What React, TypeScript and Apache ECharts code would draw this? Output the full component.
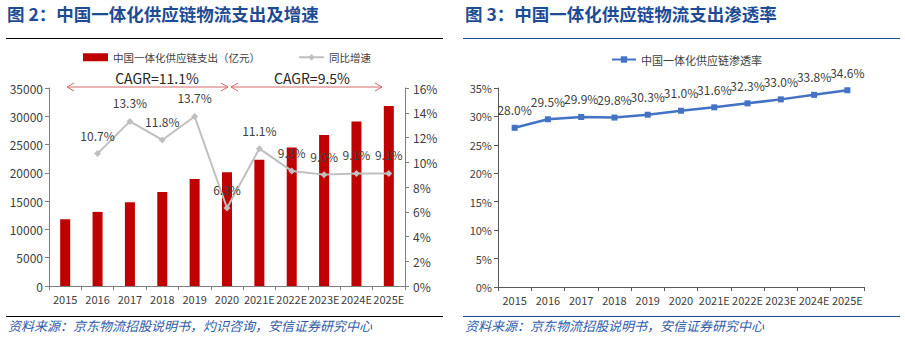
import React, { useEffect, useRef } from "react";
import * as echarts from "echarts";

const years = ["2015", "2016", "2017", "2018", "2019", "2020", "2021E", "2022E", "2023E", "2024E", "2025E"];
const spend = [11800, 13100, 14800, 16600, 18900, 20100, 22300, 24500, 26700, 29100, 31800];
const growth = [null, 10.7, 13.3, 11.8, 13.7, 6.3, 11.1, 9.3, 9.0, 9.1, 9.1];
const penetration = [28.0, 29.5, 29.9, 29.8, 30.3, 31.0, 31.6, 32.3, 33.0, 33.8, 34.6];

const spendName = "中国一体化供应链支出（亿元）";
const growthName = "同比增速";
const penName = "中国一体化供应链渗透率";
const title2 = "图 2：中国一体化供应链物流支出及增速";
const title3 = "图 3：中国一体化供应链物流支出渗透率";
const source2 = "资料来源：京东物流招股说明书，灼识咨询，安信证券研究中心";
const source3 = "资料来源：京东物流招股说明书，安信证券研究中心";
const cagr1 = "CAGR=11.1%";
const cagr2 = "CAGR=9.5%";

const FONT = "Noto Sans CJK SC";
const TITLE_COLOR = "#1D4C94";
const SRC_COLOR = "#2F5CAA";
const TXT = "#404040";
const ARROW = "#D46A6A";

export default function App() {
  const ref = useRef<HTMLDivElement>(null);
  useEffect(() => {
    if (!ref.current) return;
    const chart = echarts.init(ref.current, null, { renderer: "svg" });
    const arrow = (x1: number, x2: number, y: number) => [
      { type: "line", shape: { x1, y1: y, x2, y2: y }, style: { stroke: ARROW, lineWidth: 1 } },
      { type: "polyline", shape: { points: [[x1 + 7, y - 4], [x1, y], [x1 + 7, y + 4]] }, style: { stroke: ARROW, fill: null, lineWidth: 1 } },
      { type: "polyline", shape: { points: [[x2 - 7, y - 4], [x2, y], [x2 - 7, y + 4]] }, style: { stroke: ARROW, fill: null, lineWidth: 1 } },
    ];
    const option: any = {
      animation: false,
      textStyle: { fontFamily: FONT },
      graphic: [
        { type: "text", left: 7, top: 5, style: { text: title2, font: `bold 17.5px "${FONT}"`, fill: TITLE_COLOR } },
        { type: "text", left: 465, top: 5, style: { text: title3, font: `bold 17.5px "${FONT}"`, fill: TITLE_COLOR } },
        { type: "line", shape: { x1: 6, y1: 38.5, x2: 443, y2: 38.5 }, style: { stroke: "#000", lineWidth: 1 } },
        { type: "line", shape: { x1: 463, y1: 38.5, x2: 900, y2: 38.5 }, style: { stroke: TITLE_COLOR, lineWidth: 1 } },
        { type: "line", shape: { x1: 6, y1: 316.5, x2: 443, y2: 316.5 }, style: { stroke: "#000", lineWidth: 1 } },
        { type: "line", shape: { x1: 463, y1: 316.5, x2: 900, y2: 316.5 }, style: { stroke: TITLE_COLOR, lineWidth: 1 } },
        { type: "text", left: 8, top: 319, style: { text: source2, font: `italic 13px "${FONT}"`, fill: SRC_COLOR } },
        { type: "text", left: 465, top: 319, style: { text: source3, font: `italic 13px "${FONT}"`, fill: SRC_COLOR } },
        ...arrow(67, 228, 87),
        ...arrow(231, 382, 87),
        { type: "text", x: 157, y: 78, style: { text: cagr1, font: `14px "${FONT}"`, fill: "#262626", align: "center", verticalAlign: "middle" } },
        { type: "text", x: 312, y: 78, style: { text: cagr2, font: `14px "${FONT}"`, fill: "#262626", align: "center", verticalAlign: "middle" } },
      ],
      legend: [
        {
          left: 78, top: 47, itemWidth: 25, itemHeight: 8, itemGap: 38,
          textStyle: { fontSize: 10.5, color: TXT, fontFamily: FONT },
          data: [{ name: spendName, icon: "rect" }, { name: growthName }],
        },
        {
          left: 606, top: 49, itemWidth: 24, itemHeight: 8,
          textStyle: { fontSize: 11, color: TXT, fontFamily: FONT },
          data: [{ name: penName }],
        },
      ],
      grid: [
        { left: 49, top: 88, width: 356, height: 198 },
        { left: 498, top: 88, width: 366, height: 199 },
      ],
      xAxis: [
        {
          type: "category", gridIndex: 0, data: years,
          axisLine: { lineStyle: { color: "#808080" } },
          axisTick: { show: true, length: 4, lineStyle: { color: "#808080" } },
          axisLabel: { fontSize: 11, color: TXT, margin: 7, interval: 0 },
        },
        {
          type: "category", gridIndex: 1, data: years,
          axisLine: { lineStyle: { color: "#595959" } },
          axisTick: { show: true, length: 4, lineStyle: { color: "#595959" } },
          axisLabel: { fontSize: 11, color: TXT, margin: 7, interval: 0 },
        },
      ],
      yAxis: [
        {
          type: "value", gridIndex: 0, min: 0, max: 35000, interval: 5000, position: "left",
          splitLine: { show: false },
          axisLine: { show: true, lineStyle: { color: "#808080" } },
          axisTick: { show: true, length: 4, lineStyle: { color: "#808080" } },
          axisLabel: { fontSize: 12, color: TXT, margin: 6, formatter: (v: number) => String(v) },
        },
        {
          type: "value", gridIndex: 0, min: 0, max: 16, interval: 2, position: "right",
          splitLine: { show: false },
          axisLine: { show: true, lineStyle: { color: "#808080" } },
          axisTick: { show: true, length: 4, lineStyle: { color: "#808080" } },
          axisLabel: { fontSize: 12, color: TXT, margin: 8, formatter: "{value}%" },
        },
        {
          type: "value", gridIndex: 1, min: 0, max: 35, interval: 5, position: "left",
          splitLine: { show: false },
          axisLine: { show: true, lineStyle: { color: "#595959" } },
          axisTick: { show: true, length: 4, lineStyle: { color: "#595959" } },
          axisLabel: { fontSize: 11, color: TXT, margin: 6, formatter: "{value}%" },
        },
      ],
      series: [
        {
          name: spendName, type: "bar", xAxisIndex: 0, yAxisIndex: 0, data: spend,
          barWidth: 10, itemStyle: { color: "#C00000" },
        },
        {
          name: growthName, type: "line", xAxisIndex: 0, yAxisIndex: 1, data: growth,
          symbol: "diamond", symbolSize: 7, connectNulls: false,
          lineStyle: { color: "#BFBFBF", width: 2 }, itemStyle: { color: "#BFBFBF" },
          label: { show: true, position: "top", distance: 9, fontSize: 12, color: TXT, formatter: (p: any) => p.value.toFixed(1) + "%" },
        },
        {
          name: penName, type: "line", xAxisIndex: 1, yAxisIndex: 2, data: penetration,
          symbol: "rect", symbolSize: 6,
          lineStyle: { color: "#4472C4", width: 2.5 }, itemStyle: { color: "#4472C4" },
          label: { show: true, position: "top", distance: 9, fontSize: 12, color: TXT, formatter: (p: any) => p.value.toFixed(1) + "%" },
        },
      ],
    };
    chart.setOption(option);
    return () => chart.dispose();
  }, []);
  return <div ref={ref} style={{ position: "fixed", left: 0, top: 0, width: 905, height: 340, background: "#fff" }} />;
}
